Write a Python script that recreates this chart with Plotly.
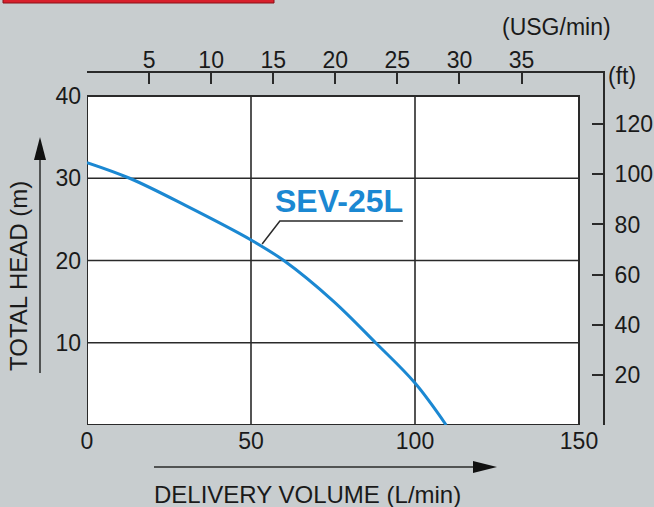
import plotly.graph_objects as go

# ---- data ----
flow_lpm = [0, 13, 30, 50, 60, 75, 88, 100, 109.5]
head_m = [31.9, 30.0, 26.7, 22.5, 20.0, 15.1, 10.0, 5.1, 0.0]
series_name = "SEV-25L"

x_ticks = [0, 50, 100, 150]
y_ticks = [10, 20, 30, 40]
x_grid = [50, 100]
y_grid = [10, 20, 30]
usg_ticks = [5, 10, 15, 20, 25, 30, 35]
ft_ticks = [20, 40, 60, 80, 100, 120]
x_box = 150
y_box = 40

LPM_PER_USG = 3.785
M_PER_FT = 0.3048

# ---- layout geometry (px) ----
W, H = 654, 507
ML, MR, MT, MB = 87, 51, 73, 82
PW = W - ML - MR
PH = H - MT - MB
PX_PER_L = (579 - ML) / x_box
PX_PER_M = (425 - 96) / y_box
x_max = PW / PX_PER_L
y_max = PH / PX_PER_M

def px(xp, yp):
    return (xp - ML) / PW, (H - MB - yp) / PH

BG = "#c8cdcf"
DARK = "#2a2a2a"
BLUE = "#1b88d2"
FONT = "Liberation Sans, Arial, Helvetica, sans-serif"
TXT = "#1a1a1a"

fig = go.Figure()
fig.add_trace(go.Scatter(x=flow_lpm, y=head_m, mode="lines", line=dict(color=BLUE, width=3, shape="spline"),
                         name=series_name, showlegend=False, hoverinfo="skip"))
# helper traces so the secondary axes are drawn
fig.add_trace(go.Scatter(x=[None], y=[None], xaxis="x2", yaxis="y", showlegend=False, hoverinfo="skip"))
fig.add_trace(go.Scatter(x=[None], y=[None], xaxis="x", yaxis="y3", showlegend=False, hoverinfo="skip"))

tickfont = dict(family=FONT, size=23, color=TXT)

fig.update_layout(
    width=W, height=H, autosize=False,
    margin=dict(l=ML, r=MR, t=MT, b=MB, pad=0, autoexpand=False),
    paper_bgcolor=BG, plot_bgcolor="rgba(0,0,0,0)",
    xaxis=dict(domain=[0, 1], range=[0, x_max], tickvals=x_ticks, showgrid=False, showline=False,
               zeroline=False, ticks="", tickfont=tickfont, anchor="y", fixedrange=True,
               ticklabelstandoff=0, automargin=False),
    yaxis=dict(domain=[0, 1], range=[0, y_max], tickvals=y_ticks, showgrid=False, showline=False,
               zeroline=False, ticks="", tickfont=tickfont, anchor="x", fixedrange=True,
               ticklabelstandoff=5, automargin=False),
    xaxis2=dict(overlaying="x", range=[0, x_max / LPM_PER_USG], tickvals=usg_ticks,
                side="top", anchor="y", showline=True, linecolor=DARK, linewidth=2,
                ticks="inside", ticklen=11, tickwidth=1.5, tickcolor=DARK, showgrid=False,
                zeroline=False, tickfont=tickfont, fixedrange=True, ticklabelstandoff=-6,
                automargin=False),
    yaxis3=dict(overlaying="y", range=[0, y_max / M_PER_FT], tickvals=ft_ticks,
                side="right", anchor="x", showline=True, linecolor=DARK, linewidth=2,
                ticks="inside", ticklen=11, tickwidth=1.5, tickcolor=DARK, showgrid=False,
                zeroline=False, tickfont=tickfont, fixedrange=True, ticklabelstandoff=5,
                automargin=False),
)

shapes = []
# white chart area
shapes.append(dict(type="rect", xref="x", yref="y", x0=0, x1=x_box, y0=0, y1=y_box,
                   fillcolor="white", line=dict(width=0), layer="below"))
for gx in x_grid:
    shapes.append(dict(type="line", xref="x", yref="y", x0=gx, x1=gx, y0=0, y1=y_box,
                       line=dict(color=DARK, width=1.6), layer="below"))
for gy in y_grid:
    shapes.append(dict(type="line", xref="x", yref="y", x0=0, x1=x_box, y0=gy, y1=gy,
                       line=dict(color=DARK, width=1.6), layer="below"))
shapes.append(dict(type="rect", xref="x", yref="y", x0=0, x1=x_box, y0=0, y1=y_box,
                   line=dict(color=DARK, width=2), layer="below"))
# red header bar
x0, y0 = px(3, -6)
x1, y1 = px(274, 3)
shapes.append(dict(type="rect", xref="paper", yref="paper", x0=x0, x1=x1, y0=y0, y1=y1,
                   fillcolor="#d8202c", line=dict(color="#8a1018", width=1)))
# x direction arrow
ax0, ay = px(154, 467)
ax1, _ = px(475, 467)
shapes.append(dict(type="line", xref="paper", yref="paper", x0=ax0, x1=ax1, y0=ay, y1=ay,
                   line=dict(color=DARK, width=1.5)))
p1 = px(473, 461); p2 = px(497, 467); p3 = px(473, 473)
shapes.append(dict(type="path", xref="paper", yref="paper",
                   path=f"M {p1[0]} {p1[1]} L {p2[0]} {p2[1]} L {p3[0]} {p3[1]} Z",
                   fillcolor="#111", line=dict(width=0)))
# y direction arrow
vx, vy0 = px(40, 373)
_, vy1 = px(40, 158)
shapes.append(dict(type="line", xref="paper", yref="paper", x0=vx, x1=vx, y0=vy0, y1=vy1,
                   line=dict(color=DARK, width=1.5)))
q1 = px(34, 160); q2 = px(40, 137); q3 = px(46, 160)
shapes.append(dict(type="path", xref="paper", yref="paper",
                   path=f"M {q1[0]} {q1[1]} L {q2[0]} {q2[1]} L {q3[0]} {q3[1]} Z",
                   fillcolor="#111", line=dict(width=0)))
# leader line for the series label
shapes.append(dict(type="path", xref="x", yref="y",
                   path="M 53.4 22.0 L 58.8 24.8 L 96.3 24.8",
                   line=dict(color=DARK, width=1.5)))
fig.update_layout(shapes=shapes)

ann = []
ann.append(dict(xref="x", yref="y", x=56.6, y=27.2, text=f"<b>{series_name}</b>", showarrow=False,
                xanchor="left", yanchor="middle", font=dict(family=FONT, size=32, color=BLUE)))
tx, ty = px(307, 495)
ann.append(dict(xref="paper", yref="paper", x=tx, y=ty, text="DELIVERY VOLUME (L/min)", showarrow=False,
                xanchor="center", yanchor="middle", font=dict(family=FONT, size=24, color=TXT)))
tx, ty = px(18, 276)
ann.append(dict(xref="paper", yref="paper", x=tx, y=ty, text="TOTAL HEAD (m)", showarrow=False, textangle=-90,
                xanchor="center", yanchor="middle", font=dict(family=FONT, size=24, color=TXT)))
tx, ty = px(556, 27)
ann.append(dict(xref="paper", yref="paper", x=tx, y=ty, text="(USG/min)", showarrow=False,
                xanchor="center", yanchor="middle", font=dict(family=FONT, size=23, color=TXT)))
tx, ty = px(622, 76)
ann.append(dict(xref="paper", yref="paper", x=tx, y=ty, text="(ft)", showarrow=False,
                xanchor="center", yanchor="middle", font=dict(family=FONT, size=23, color=TXT)))
fig.update_layout(annotations=ann)

fig.write_html("out.html", config={"displayModeBar": False},
               post_script="document.body.style.margin='0';document.body.style.padding='0';"
                           "document.body.style.overflow='hidden';")
